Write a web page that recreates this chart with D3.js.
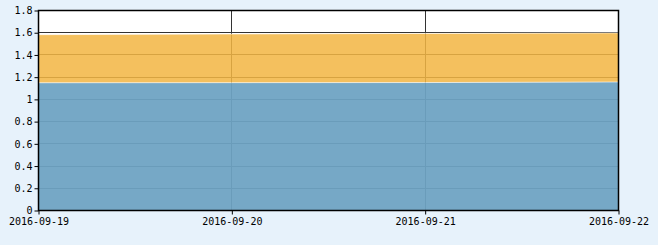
<!DOCTYPE html>
<html>
<head>
<meta charset="utf-8">
<script src="https://cdn.jsdelivr.net/npm/d3@7"></script>
<style>
  html, body { margin: 0; padding: 0; background: #e7f2fb; }
  svg { display: block; }
  text { font-family: "DejaVu Sans Mono", monospace; font-size: 10px; fill: #000; }
</style>
</head>
<body>
<div id="chart"></div>
<script>
// data
const dates = ['2016-09-19', '2016-09-20', '2016-09-21', '2016-09-22'];
const seriesBlue = [1.145, 1.146, 1.147, 1.152];
const seriesOrange = [0.433, 0.438, 0.442, 0.442];
const yTicks = [0, 0.2, 0.4, 0.6, 0.8, 1, 1.2, 1.4, 1.6, 1.8];

const width = 658;
const height = 245;
const margin = { top: 10, right: 40, bottom: 35, left: 38 };
const innerW = width - margin.left - margin.right;
const innerH = height - margin.top - margin.bottom;

const parse = d3.timeParse('%Y-%m-%d');
const rows = dates.map((d, i) => ({ date: parse(d), blue: seriesBlue[i], orange: seriesOrange[i] }));

const svg = d3.select('#chart')
  .append('svg')
  .attr('width', width)
  .attr('height', height);

const g = svg.append('g').attr('transform', `translate(${margin.left},${margin.top})`);

const x = d3.scaleTime()
  .domain(d3.extent(rows, (d) => d.date))
  .range([0, innerW]);

const y = d3.scaleLinear()
  .domain([0, 1.8])
  .range([innerH, 0]);

// plot background
g.append('rect')
  .attr('width', innerW)
  .attr('height', innerH)
  .attr('fill', '#fff');

// gridlines (drawn under the translucent areas)
g.append('g')
  .selectAll('line')
  .data(yTicks.slice(1, -1))
  .enter()
  .append('line')
  .attr('x1', 0)
  .attr('x2', innerW)
  .attr('y1', (d) => Math.round(y(d)) + 0.5)
  .attr('y2', (d) => Math.round(y(d)) + 0.5)
  .attr('stroke', '#333')
  .attr('stroke-width', 1);

g.append('g')
  .selectAll('line')
  .data(rows.slice(1, -1))
  .enter()
  .append('line')
  .attr('x1', (d) => Math.round(x(d.date)) + 0.5)
  .attr('x2', (d) => Math.round(x(d.date)) + 0.5)
  .attr('y1', 0)
  .attr('y2', innerH)
  .attr('stroke', '#333')
  .attr('stroke-width', 1);

// stacked areas
const stack = d3.stack().keys(['blue', 'orange']);
const layers = stack(rows);
const colors = { blue: '#6da3c2', orange: '#f2b644' };
const opacity = { blue: 0.94, orange: 0.86 };

const area = d3.area()
  .x((d) => x(d.data.date))
  .y0((d) => y(d[0]))
  .y1((d) => y(d[1]));

const line = d3.line()
  .x((d) => x(d.data.date))
  .y((d) => y(d[1]));

g.append('g')
  .selectAll('path')
  .data(layers)
  .enter()
  .append('path')
  .attr('d', area)
  .attr('fill', (d) => colors[d.key])
  .attr('fill-opacity', (d) => opacity[d.key]);

g.append('g')
  .selectAll('path')
  .data(layers)
  .enter()
  .append('path')
  .attr('d', line)
  .attr('fill', 'none')
  .attr('stroke', '#fff')
  .attr('stroke-opacity', 0.6)
  .attr('stroke-width', 1);

// frame
g.append('rect')
  .attr('x', 0.5)
  .attr('y', 0.5)
  .attr('width', innerW)
  .attr('height', innerH)
  .attr('fill', 'none')
  .attr('stroke', '#000')
  .attr('stroke-width', 1.5);

// axes
const xAxis = d3.axisBottom(x)
  .tickValues(rows.map((d) => d.date))
  .tickFormat(d3.timeFormat('%Y-%m-%d'))
  .tickSize(4)
  .tickPadding(3);

const yAxis = d3.axisLeft(y)
  .tickValues(yTicks)
  .tickFormat((d) => String(+d.toFixed(1)))
  .tickSize(4)
  .tickPadding(2);

const gx = g.append('g')
  .attr('transform', `translate(0.5,${innerH + 0.5})`)
  .call(xAxis);

const gy = g.append('g')
  .attr('transform', 'translate(0.5,0.5)')
  .call(yAxis);

[gx, gy].forEach((ax) => {
  ax.select('.domain').remove();
  ax.selectAll('.tick line').attr('stroke', '#000');
  ax.selectAll('.tick text').attr('fill', '#000').style('font-size', '10px');
});
</script>
</body>
</html>
